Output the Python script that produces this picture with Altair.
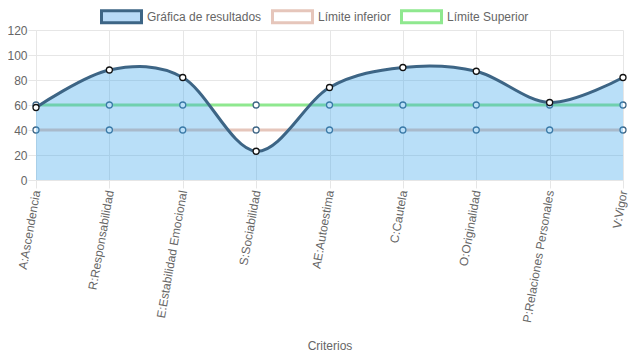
import altair as alt
import pandas as pd

criterios = ["A:Ascendencia", "R:Responsabilidad", "E:Estabilidad Emocional",
             "S:Sociabilidad", "AE:Autoestima", "C:Cautela", "O:Originalidad",
             "P:Relaciones Personales", "V:Vigor"]
resultados = [58, 88, 82, 23, 74, 90, 87, 62, 82]
limite_inferior = [40, 40, 40, 40, 40, 40, 40, 40, 40]
limite_superior = [60, 60, 60, 60, 60, 60, 60, 60, 60]

series = ["Gráfica de resultados", "Límite inferior", "Límite Superior"]
stroke_colors = ["#3d6585", "#e6c6bb", "#8fe88f"]
fill_colors = ["#b8daf7", "#ffffff", "#ffffff"]

rows = []
for name, vals in zip(series, [resultados, limite_inferior, limite_superior]):
    for c, v in zip(criterios, vals):
        rows.append({"criterio": c, "serie": name, "valor": v})
df = pd.DataFrame(rows)

FONT = "Liberation Sans"
GRID = "#e6e6e6"

x = alt.X("criterio:N", sort=criterios, title="Criterios",
          scale=alt.Scale(type="point", padding=0),
          axis=alt.Axis(labelAngle=-80, labelAlign="right", labelBaseline="middle",
                        grid=True, gridColor=GRID, tickColor=GRID, tickSize=8,
                        domainColor=GRID, labelColor="#666", labelFont=FONT,
                        labelFontSize=12, labelPadding=2, titleColor="#666",
                        titleFont=FONT, titleFontSize=12, titleFontWeight="normal",
                        titlePadding=17, labelOverlap=False))
y = alt.Y("valor:Q", title=None,
          scale=alt.Scale(domain=[0, 120], nice=False),
          axis=alt.Axis(values=[0, 20, 40, 60, 80, 100, 120], grid=True,
                        gridColor=GRID, tickColor=GRID, tickSize=8, domainColor=GRID,
                        labelColor="#666", labelFont=FONT, labelFontSize=12,
                        labelPadding=1))

base = alt.Chart(df)

inf = base.transform_filter(alt.datum.serie == "Límite inferior")
sup = base.transform_filter(alt.datum.serie == "Límite Superior")
res = base.transform_filter(alt.datum.serie == "Gráfica de resultados")

inf_line = inf.mark_line(color="#e6c6bb", strokeWidth=3).encode(x=x, y=y)
inf_pts = inf.mark_point(filled=False, fill="white", color="#3d6585", size=36,
                         strokeWidth=1.3, opacity=1).encode(x=x, y=y)
sup_line = sup.mark_line(color="#8fe88f", strokeWidth=3).encode(x=x, y=y)
sup_pts = sup.mark_point(filled=False, fill="white", color="#3d6585", size=36,
                         strokeWidth=1.3, opacity=1).encode(x=x, y=y)

res_area = res.mark_area(interpolate="cardinal", color="#36a2eb",
                         opacity=0.35).encode(x=x, y=y)
res_line = res.mark_line(interpolate="cardinal", color="#3d6585",
                         strokeWidth=3).encode(x=x, y=y)
res_pts = res.mark_point(filled=False, fill="white", color="#111", size=36,
                         strokeWidth=1.3, opacity=1).encode(x=x, y=y)

legend = alt.Legend(orient="none", legendX=64, legendY=-35, direction="horizontal",
                    title=None, symbolType="M-1,-0.3H1V0.3H-1Z", symbolSize=1600,
                    symbolStrokeWidth=3, labelFont=FONT, labelFontSize=12,
                    labelColor="#666", labelOffset=4, columnPadding=4,
                    symbolOpacity=1)
dummy = base.mark_point(strokeWidth=3).encode(
    x=x, y=y,
    stroke=alt.Stroke("serie:N", scale=alt.Scale(domain=series, range=stroke_colors),
                      sort=series, legend=legend),
    fill=alt.Fill("serie:N", scale=alt.Scale(domain=series, range=fill_colors),
                  sort=series, legend=legend),
    opacity=alt.value(0),
)

chart = alt.layer(inf_line, sup_line, inf_pts, sup_pts, res_area, res_line, res_pts,
                  dummy).properties(
    width=587, height=150,
    autosize=alt.AutoSizeParams(type="none"),
    padding={"left": 28, "top": 22, "right": 6, "bottom": 179},
).configure_view(stroke=None)

chart.save("out.html", embed_options={"renderer": "svg", "actions": False})
